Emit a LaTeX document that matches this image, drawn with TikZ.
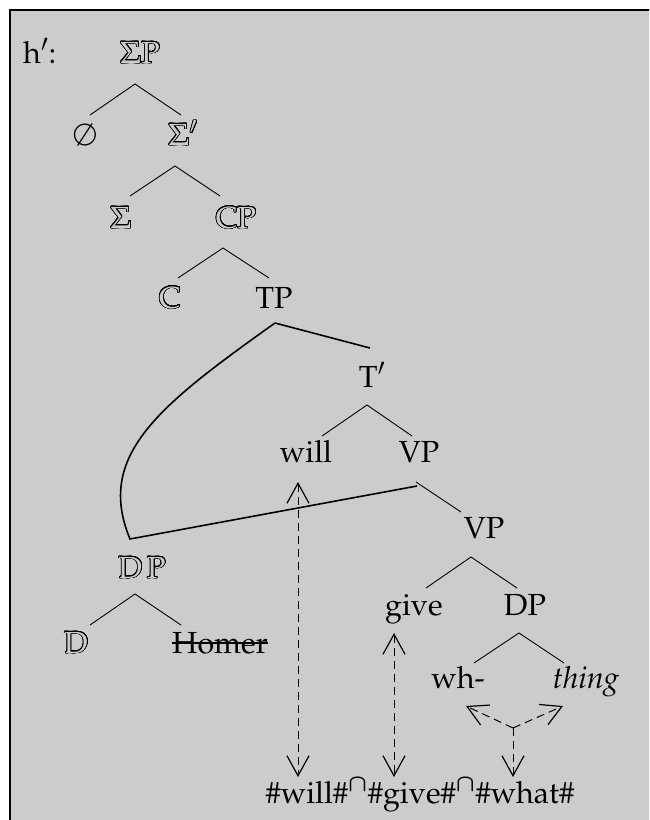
\documentclass[tikz,border=0pt]{standalone}
\usepackage[T1]{fontenc}
\usepackage{mathpazo}
\usepackage[copies]{contour}
\usetikzlibrary{arrows.meta}
\definecolor{bgc}{HTML}{CCCCCC}
\contourlength{0.75pt}
\contournumber{32}
\newcommand{\hol}[1]{{\color{bgc}\contour{black}{#1}}}
\tikzset{
  lbl/.style={anchor=base,inner sep=0pt,font=\fontsize{30.5}{36}\selectfont},
  br/.style={line width=0.9pt},
  mv/.style={line width=1.6pt},
  dl/.style={line width=1pt,dash pattern=on 8pt off 5pt},
  barb/.tip={Straight Barb[length=20pt,width=22pt,line width=1.2pt]}
}
\begin{document}
\begin{tikzpicture}[x=1pt,y=-1pt]
\useasboundingbox (0,0) rectangle (649,820);
\begin{scope}
\clip (0,0) rectangle (649,820);
\draw[fill=bgc,line width=2pt] (10,10) rectangle (700,900);
\end{scope}
% nodes
\node[lbl,anchor=base west] (h) at (23,63) {h$'$:};
\node[lbl] (SP) at (140,63) {\hol{$\Sigma$P}};
\node[lbl] (nul) at (85,145) {$\emptyset$};
\node[lbl] (Sb) at (183,145) {\hol{$\Sigma'$}};
\node[lbl] (Sg) at (121,228) {\hol{$\Sigma$}};
\node[lbl] (CP) at (236,228) {\hol{CP}};
\node[lbl] (C) at (170,308) {\hol{C}};
\node[lbl] (TP) at (274,308) {TP};
\node[lbl] (Tb) at (372,387) {T$'$};
\node[lbl] (will) at (306,462) {will};
\node[lbl] (VPa) at (419,462) {VP};
\node[lbl] (VPb) at (484,538) {VP};
\node[lbl] (give) at (414,615) {give};
\node[lbl] (DP) at (525,615) {DP};
\node[lbl] (wh) at (458,688) {wh-};
\node[lbl] (thing) at (586,688) {\itshape thing};
\node[lbl] (DPh) at (142,578) {\hol{D\,P}};
\node[lbl] (D) at (76,653) {\hol{D}};
\node[lbl] (Homer) at (220,653) {Homer};
\draw[line width=1.6pt] ([yshift=10pt]Homer.base west) -- ([yshift=10pt]Homer.base east);
\node[lbl] (out) at (420,803) {\#will\#\textsuperscript{\boldmath$\cap$}\#give\#\textsuperscript{\boldmath$\cap$}\#what\#};
% branch points
\coordinate (aSP) at (135,84);
\coordinate (aSb) at (175,166);
\coordinate (aCP) at (223,248);
\coordinate (aTP) at (275,323);
\coordinate (aTb) at (367,405);
\coordinate (aVPa) at (416,482);
\coordinate (aVPb) at (471,557);
\coordinate (aDP) at (519,633);
\coordinate (aDPh) at (135,594);
\coordinate (tDPh) at (130,539);
\coordinate (tVPa) at (417,486);
\coordinate (tTb) at (370,348);
\coordinate (tVPb) at (461,512);
% branches
\draw[br] (90,115) -- (aSP) -- (181,115);
\draw[br] (130,196) -- (aSb) -- (220,196);
\draw[br] (178,278) -- (aCP) -- (269,278);
\draw[br] (322,436) -- (aTb) -- (412,436);
\draw[br] (426,588) -- (aVPb) -- (517,588);
\draw[br] (474,663) -- (aDP) -- (564,663);
\draw[br] (90,625) -- (aDPh) -- (181,625);
\draw[br] (aVPa) -- (tVPb);
% movement / multidominance lines
\draw[mv] (aTP) -- (tTb);
\draw[mv] (aTP) .. controls (160,405) and (95,455) .. (tDPh) -- (tVPa);
% dashed arrows
\coordinate (wTop) at (298,482);
\coordinate (wBot) at (298,777);
\coordinate (gTop) at (394,633);
\coordinate (gBot) at (394,777);
\coordinate (jn) at (513,728);
\coordinate (jL) at (466,706);
\coordinate (jR) at (563,706);
\coordinate (jB) at (513,777);
\draw[dl,barb-barb] (wTop) -- (wBot);
\draw[dl,barb-barb] (gTop) -- (gBot);
\draw[dl,-barb] (jn) -- (jL);
\draw[dl,-barb] (jn) -- (jR);
\draw[dl,-barb] (jn) -- (jB);
\end{tikzpicture}
\end{document}
